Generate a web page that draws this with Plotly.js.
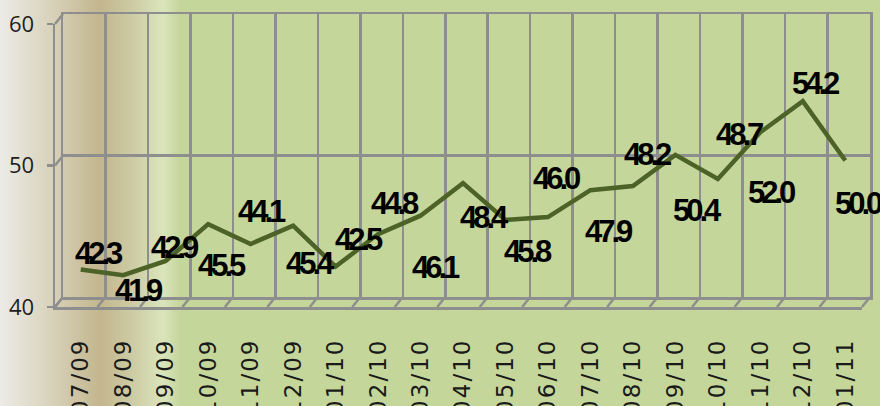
<!DOCTYPE html>
<html>
<head>
<meta charset="utf-8">
<script src="https://cdn.plot.ly/plotly-3.0.1.min.js"></script>
<style>
  html, body { margin: 0; padding: 0; }
  #chart {
    width: 880px; height: 406px;
    background: linear-gradient(to right, #ecebe6 0px, #d9d3bc 50px, #c3b68e 100px, #cdcca4 133px, #dae5bb 163px, #c5d69b 180px, #c5d69b 880px);
  }
  .annotation-text { letter-spacing: -4px; }
  .x3tick text { letter-spacing: 2px; }
</style>
</head>
<body>
<div id="chart"></div>
<script>
// ---- data ----
const categories = ['07/09','08/09','09/09','10/09','11/09','12/09','01/10','02/10','03/10','04/10','05/10','06/10','07/10','08/10','09/10','10/10','11/10','12/10','01/11'];
const values = [42.3, 41.9, 42.9, 45.5, 44.1, 45.4, 42.5, 44.8, 46.1, 48.4, 45.8, 46.0, 47.9, 48.2, 50.4, 48.7, 52.0, 54.2, 50.0];
const yTicks = [40, 50, 60];

// ---- label placement (pixel offsets from each point; styling only) ----
const labelDx = [18, 16, 9, 14, 11, 17, 23, 17, 15, 21, 23, 9, 19, 15, 22, 22, 11, 13, 13];
const labelDy = [-16, 15, -13, 41, -32, 38, -27, -31, 52, 34, 32, -39, 41, -31, 56, -44, 60, -18, 43];

const W = 880, H = 406;
const PX = p => p / W;
const PY = p => 1 - p / H;
const n = categories.length;
const idx = categories.map((c, i) => i);
const bounds = [...Array(n + 1).keys()].map(k => k - 0.5);

// planes (pixel geometry of the 3-D box)
const back  = {x0: 63, x1: 870, yb: 297, yt: 14};
const front = {x0: 55, x1: 862, yb: 307, yt: 24};
const mid   = {x0: 59.5, x1: 866.5, yb: 302, yt: 19};
const gray = '#8e8e8e';

const traces = [
  {x: idx, y: values, xaxis: 'x', yaxis: 'y', mode: 'none', hoverinfo: 'skip', showlegend: false},
  {x: idx, y: values, xaxis: 'x2', yaxis: 'y2', mode: 'none', hoverinfo: 'skip', showlegend: false},
  {x: categories, y: values, xaxis: 'x3', yaxis: 'y3', mode: 'lines', hoverinfo: 'skip', showlegend: false,
   line: {color: '#4d6226', width: 4.5}}
];

const shapes = [];
const step = (back.x1 - back.x0) / n;
bounds.forEach((b, k) => {
  shapes.push({type: 'line', xref: 'paper', yref: 'paper', layer: 'below',
    x0: PX(front.x0 + k * step), y0: PY(front.yb), x1: PX(back.x0 + k * step), y1: PY(back.yb),
    line: {color: gray, width: 2.5}});
});
yTicks.forEach(t => {
  const fy = front.yb - (t - 40) / 20 * (front.yb - front.yt);
  const by = back.yb - (t - 40) / 20 * (back.yb - back.yt);
  shapes.push({type: 'line', xref: 'paper', yref: 'paper', layer: 'below',
    x0: PX(front.x0), y0: PY(fy), x1: PX(back.x0), y1: PY(by),
    line: {color: gray, width: 2.5}});
});

const annotations = values.map((v, i) => ({
  xref: 'x3', yref: 'y3', x: categories[i], y: v,
  text: v.toFixed(1), showarrow: false,
  xshift: labelDx[i], yshift: -labelDy[i],
  font: {family: '"Liberation Sans", Arial, sans-serif', size: 31, color: '#000', weight: 'bold'}
}));

const layout = {
  width: W, height: H,
  margin: {l: 0, r: 0, t: 0, b: 0},
  paper_bgcolor: 'rgba(0,0,0,0)', plot_bgcolor: 'rgba(0,0,0,0)',
  showlegend: false,
  // back wall (grid)
  xaxis: {domain: [PX(back.x0), PX(back.x1)], range: [-0.5, n - 0.5], anchor: 'y',
    tickmode: 'array', tickvals: bounds, showticklabels: false, ticks: '',
    showgrid: true, gridcolor: gray, gridwidth: 2.5, zeroline: false,
    showline: true, mirror: true, linecolor: gray, linewidth: 2.5},
  yaxis: {domain: [PY(back.yb), PY(back.yt)], range: [40, 60], anchor: 'x',
    tickmode: 'array', tickvals: yTicks, showticklabels: false, ticks: '',
    showgrid: true, gridcolor: gray, gridwidth: 2.5, zeroline: false,
    showline: true, mirror: true, linecolor: gray, linewidth: 2.5},
  // front edges with y labels
  xaxis2: {domain: [PX(front.x0), PX(front.x1)], range: [-0.5, n - 0.5], anchor: 'y2',
    showticklabels: false, ticks: '', showgrid: false, zeroline: false,
    showline: true, linecolor: gray, linewidth: 2.5},
  yaxis2: {domain: [PY(front.yb), PY(front.yt)], range: [40, 60], anchor: 'x2',
    tickmode: 'array', tickvals: yTicks, ticks: 'outside', ticklen: 6, tickcolor: gray, tickwidth: 2.5,
    ticklabelstandoff: 8,
    tickfont: {family: '"Open Sans", "Noto Sans", sans-serif', size: 22, color: '#1e1e1e'},
    showgrid: false, zeroline: false, showline: true, linecolor: gray, linewidth: 2.5},
  // middle plane: the data line and category labels
  xaxis3: {domain: [PX(mid.x0), PX(mid.x1)], type: 'category', range: [-0.5, n - 0.5], anchor: 'y3',
    tickangle: -90, ticks: '', ticklabelstandoff: 31,
    tickfont: {family: '"DejaVu Sans", sans-serif', size: 23, color: '#1a1a1a'},
    showgrid: false, zeroline: false, showline: false},
  yaxis3: {domain: [PY(mid.yb), PY(mid.yt)], range: [40, 60], anchor: 'x3',
    visible: false, showgrid: false, zeroline: false},
  shapes: shapes,
  annotations: annotations
};

Plotly.newPlot('chart', traces, layout, {staticPlot: true, displayModeBar: false});
</script>
</body>
</html>
